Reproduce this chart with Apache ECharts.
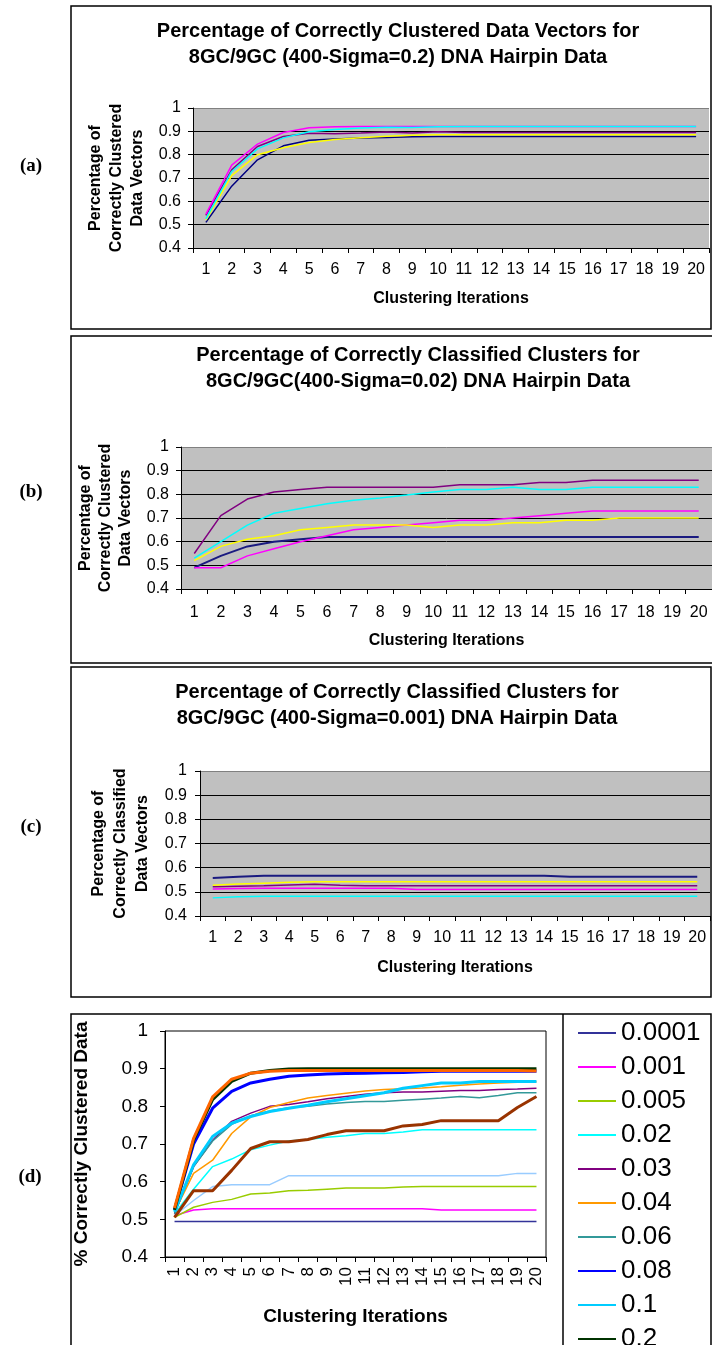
<!DOCTYPE html>
<html><head><meta charset="utf-8">
<script src="https://cdn.jsdelivr.net/npm/echarts@6/dist/echarts.min.js"></script>
<style>html,body{margin:0;padding:0;background:#fff}#chart{width:712px;height:1345px}</style>
</head><body><div id="chart"></div>
<script>
// ---------- data ----------
const iterations = ['1','2','3','4','5','6','7','8','9','10','11','12','13','14','15','16','17','18','19','20'];

const titleA = 'Percentage of Correctly Clustered Data Vectors for\n8GC/9GC (400-Sigma=0.2) DNA Hairpin Data';
const titleB = 'Percentage of Correctly Classified Clusters for\n8GC/9GC(400-Sigma=0.02) DNA Hairpin Data';
const titleC = 'Percentage of Correctly Classified Clusters for\n8GC/9GC (400-Sigma=0.001) DNA Hairpin Data';
const yNameAB = 'Percentage of\nCorrectly Clustered\nData Vectors';
const yNameC = 'Percentage of\nCorrectly Classified\nData Vectors';
const yNameD = '% Correctly Clustered Data';
const xName = 'Clustering Iterations';
const panelLabels = ['(a)', '(b)', '(c)', '(d)'];

// panel (a)
const aNavy    = [0.510,0.665,0.778,0.838,0.862,0.867,0.871,0.874,0.877,0.878,0.878,0.878,0.878,0.878,0.878,0.878,0.878,0.878,0.878,0.878];
const aMagenta = [0.545,0.755,0.845,0.895,0.915,0.920,0.921,0.921,0.921,0.921,0.921,0.921,0.921,0.921,0.921,0.921,0.921,0.921,0.921,0.921];
const aYellow  = [0.520,0.710,0.800,0.830,0.852,0.865,0.873,0.879,0.883,0.885,0.885,0.885,0.885,0.885,0.885,0.885,0.885,0.885,0.885,0.885];
const aPurple  = [0.540,0.735,0.835,0.878,0.892,0.890,0.893,0.897,0.893,0.898,0.895,0.895,0.895,0.895,0.895,0.895,0.895,0.895,0.895,0.895];
const aCyan    = [0.525,0.728,0.825,0.872,0.898,0.908,0.914,0.918,0.916,0.920,0.921,0.921,0.921,0.921,0.921,0.921,0.921,0.921,0.921,0.921];

// panel (b)
const bNavy    = [0.49,0.54,0.58,0.60,0.61,0.62,0.62,0.62,0.62,0.62,0.62,0.62,0.62,0.62,0.62,0.62,0.62,0.62,0.62,0.62];
const bMagenta = [0.49,0.49,0.54,0.57,0.60,0.625,0.65,0.66,0.67,0.68,0.69,0.69,0.70,0.71,0.72,0.73,0.73,0.73,0.73,0.73];
const bYellow  = [0.52,0.58,0.61,0.625,0.65,0.66,0.67,0.67,0.67,0.66,0.67,0.67,0.68,0.68,0.69,0.69,0.70,0.70,0.70,0.70];
const bCyan    = [0.53,0.60,0.67,0.72,0.74,0.76,0.775,0.785,0.797,0.81,0.82,0.82,0.83,0.82,0.82,0.83,0.83,0.83,0.83,0.83];
const bPurple  = [0.55,0.71,0.78,0.81,0.82,0.83,0.83,0.83,0.83,0.83,0.84,0.84,0.84,0.85,0.85,0.86,0.86,0.86,0.86,0.86];

// panel (c)
const cNavy    = [0.557,0.562,0.567,0.567,0.567,0.567,0.567,0.567,0.567,0.567,0.567,0.567,0.567,0.567,0.562,0.562,0.562,0.562,0.562,0.562];
const cYellow  = [0.527,0.532,0.536,0.540,0.542,0.542,0.542,0.542,0.542,0.542,0.542,0.542,0.542,0.542,0.542,0.542,0.542,0.542,0.542,0.542];
const cPurple  = [0.521,0.523,0.525,0.528,0.531,0.527,0.525,0.525,0.525,0.525,0.525,0.525,0.525,0.525,0.525,0.525,0.525,0.525,0.525,0.525];
const cMagenta = [0.512,0.514,0.515,0.515,0.515,0.515,0.515,0.515,0.510,0.510,0.510,0.510,0.510,0.510,0.510,0.510,0.510,0.510,0.510,0.510];
const cCyan    = [0.475,0.480,0.482,0.482,0.482,0.482,0.482,0.482,0.482,0.482,0.482,0.482,0.482,0.482,0.482,0.482,0.482,0.482,0.482,0.482];

// panel (d)
const dNames = ['0.0001','0.001','0.005','0.02','0.03','0.04','0.06','0.08','0.1','0.2','0.3','0.4','0.5'];
const d00001 = [0.494,0.494,0.494,0.494,0.494,0.494,0.494,0.494,0.494,0.494,0.494,0.494,0.494,0.494,0.494,0.494,0.494,0.494,0.494,0.494];
const d0001  = [0.510,0.525,0.528,0.528,0.528,0.528,0.528,0.528,0.528,0.528,0.528,0.528,0.528,0.528,0.525,0.525,0.525,0.525,0.525,0.525];
const d0005  = [0.505,0.532,0.545,0.553,0.567,0.570,0.576,0.577,0.580,0.583,0.583,0.583,0.586,0.587,0.587,0.587,0.587,0.587,0.587,0.587];
const d002   = [0.515,0.580,0.640,0.660,0.685,0.697,0.708,0.712,0.718,0.722,0.728,0.728,0.732,0.738,0.738,0.738,0.738,0.738,0.738,0.738];
const d003   = [0.515,0.640,0.710,0.760,0.782,0.800,0.805,0.812,0.820,0.826,0.832,0.836,0.838,0.838,0.840,0.842,0.842,0.845,0.846,0.848];
const d004   = [0.520,0.622,0.657,0.728,0.772,0.797,0.810,0.822,0.829,0.835,0.841,0.845,0.847,0.849,0.852,0.856,0.859,0.862,0.864,0.865];
const d006   = [0.515,0.640,0.708,0.752,0.775,0.788,0.796,0.800,0.806,0.810,0.813,0.813,0.816,0.819,0.822,0.826,0.823,0.829,0.836,0.836];
const d008   = [0.525,0.700,0.795,0.840,0.862,0.872,0.880,0.883,0.886,0.887,0.888,0.889,0.890,0.892,0.893,0.893,0.893,0.893,0.893,0.893];
const d01    = [0.520,0.645,0.720,0.755,0.773,0.786,0.795,0.803,0.812,0.820,0.828,0.836,0.848,0.855,0.862,0.862,0.866,0.866,0.866,0.866];
const d02    = [0.525,0.710,0.818,0.866,0.888,0.895,0.899,0.900,0.900,0.900,0.900,0.900,0.900,0.900,0.900,0.900,0.900,0.900,0.900,0.900];
const d03    = [0.510,0.550,0.587,0.592,0.592,0.592,0.616,0.616,0.616,0.616,0.616,0.616,0.616,0.616,0.616,0.616,0.616,0.616,0.622,0.622];
const d04    = [0.505,0.576,0.576,0.630,0.688,0.706,0.706,0.712,0.725,0.735,0.735,0.735,0.748,0.752,0.762,0.762,0.762,0.762,0.797,0.826];
const d05    = [0.530,0.715,0.825,0.872,0.888,0.893,0.895,0.895,0.895,0.895,0.895,0.895,0.895,0.895,0.895,0.895,0.895,0.895,0.895,0.894];

// ---------- build ----------
const FONT = "'Liberation Sans', Arial, sans-serif";
const gridLineColors = ['#000','#000','#000','#000','#000','#000','#808080'];

function xAx(i, fs, margin, gap, rotate, nameFs) {
  return {
    gridIndex: i, type: 'category', data: iterations, boundaryGap: true,
    axisLine: { lineStyle: { color: '#000', width: 1 } },
    axisTick: { show: true, length: 5, alignWithLabel: false, lineStyle: { color: '#000' } },
    axisLabel: { interval: 0, color: '#000', fontSize: fs, fontFamily: FONT, margin: margin, rotate: rotate },
    splitLine: { show: false },
    name: xName, nameLocation: 'middle', nameGap: gap,
    nameTextStyle: { fontWeight: 'bold', fontSize: nameFs, color: '#000', fontFamily: FONT }
  };
}
function yAx(i, name, fs, margin, gap, nameFs, lh, split) {
  return {
    gridIndex: i, type: 'value', min: 0.4, max: 1, interval: 0.1,
    axisLine: { show: true, lineStyle: { color: '#000', width: 1 } },
    axisTick: { show: true, length: 5, lineStyle: { color: '#000' } },
    axisLabel: { color: '#000', fontSize: fs, fontFamily: FONT, margin: margin },
    splitLine: { show: split, lineStyle: { color: gridLineColors, width: 1 } },
    name: name, nameLocation: 'middle', nameRotate: 90, nameGap: gap,
    nameTextStyle: { fontWeight: 'bold', fontSize: nameFs, lineHeight: lh, color: '#000', fontFamily: FONT, align: 'center' }
  };
}
function ln(i, name, data, color, width) {
  return { type: 'line', name: name, xAxisIndex: i, yAxisIndex: i, data: data,
    symbol: 'none', lineStyle: { color: color, width: width }, itemStyle: { color: color } };
}
function ttl(text, cx, top) {
  return { text: text, left: cx, top: top, textAlign: 'center', padding: 0,
    textStyle: { fontSize: 20, fontWeight: 'bold', lineHeight: 26, color: '#000', fontFamily: FONT } };
}

const series = [
  ln(0, 'a navy', aNavy, '#000080', 1.5),
  ln(0, 'a yellow', aYellow, '#ffff00', 1.5),
  ln(0, 'a purple', aPurple, '#800080', 1.5),
  ln(0, 'a magenta', aMagenta, '#ff00ff', 1.5),
  ln(0, 'a cyan', aCyan, '#00ffff', 1.5),

  ln(1, 'b navy', bNavy, '#1a1a80', 2),
  ln(1, 'b magenta', bMagenta, '#ff00ff', 1.5),
  ln(1, 'b yellow', bYellow, '#ffff00', 1.5),
  ln(1, 'b cyan', bCyan, '#00ffff', 1.5),
  ln(1, 'b purple', bPurple, '#800080', 1.5),

  ln(2, 'c navy', cNavy, '#1a1a80', 2),
  ln(2, 'c purple', cPurple, '#800080', 1.5),
  ln(2, 'c magenta', cMagenta, '#ff00ff', 1.5),
  ln(2, 'c yellow', cYellow, '#ffff00', 1.5),
  ln(2, 'c cyan', cCyan, '#00ffff', 1.5),

  ln(3, dNames[0], d00001, '#333399', 1.5),
  ln(3, dNames[1], d0001, '#ff00ff', 1.5),
  ln(3, dNames[2], d0005, '#99cc00', 1.5),
  ln(3, dNames[3], d002, '#00ffff', 1.5),
  ln(3, dNames[4], d003, '#800080', 1.5),
  ln(3, dNames[5], d004, '#ff9900', 1.5),
  ln(3, dNames[6], d006, '#339999', 1.5),
  ln(3, dNames[7], d008, '#0000ff', 3),
  ln(3, dNames[8], d01, '#00ccff', 3),
  ln(3, dNames[9], d02, '#003300', 3),
  ln(3, dNames[10], d03, '#99ccff', 1.5),
  ln(3, dNames[11], d04, '#993300', 3),
  ln(3, dNames[12], d05, '#ff6600', 3)
];

const borders = [
  { x: 71, y: 6, w: 640, h: 323 },
  { x: 71, y: 336, w: 660, h: 327 },
  { x: 71, y: 667, w: 640, h: 330 },
  { x: 71, y: 1014, w: 640, h: 400 }
];
const labelPos = [[31, 166], [31, 492], [31, 827], [30, 1177]];

const graphic = [];
borders.forEach(b => graphic.push({ type: 'rect', silent: true, z: 100,
  shape: { x: b.x, y: b.y, width: b.w, height: b.h },
  style: { fill: 'none', stroke: '#000', lineWidth: 1.5 } }));
graphic.push({ type: 'line', silent: true, z: 100, shape: { x1: 563, y1: 1014, x2: 563, y2: 1400 },
  style: { stroke: '#000', lineWidth: 1.5 } });
panelLabels.forEach((t, i) => graphic.push({ type: 'text', x: labelPos[i][0], y: labelPos[i][1], z: 100,
  style: { text: t, fontSize: 19, fontWeight: 'bold', fontFamily: "'Liberation Serif', 'Times New Roman', serif",
    align: 'center', verticalAlign: 'middle', fill: '#000' } }));

const option = {
  animation: false,
  backgroundColor: '#fff',
  title: [ttl(titleA, 398, 18), ttl(titleB, 418, 342), ttl(titleC, 397, 679)],
  grid: [
    { left: 193, top: 108, width: 516, height: 140, show: true, backgroundColor: '#c0c0c0', borderWidth: 0 },
    { left: 181, top: 447, width: 534, height: 142, show: true, backgroundColor: '#c0c0c0', borderWidth: 0 },
    { left: 200, top: 771, width: 510, height: 145, show: true, backgroundColor: '#c0c0c0', borderWidth: 0 },
    { left: 165, top: 1031, width: 381, height: 226, show: true, backgroundColor: '#fff', borderColor: '#000', borderWidth: 1 }
  ],
  xAxis: [
    xAx(0, 16, 14, 43, 0, 16),
    xAx(1, 16, 16, 44, 0, 16),
    xAx(2, 16, 14, 44, 0, 16),
    xAx(3, 17, 10, 50, 90, 19)
  ],
  yAxis: [
    yAx(0, yNameAB, 16, 12, 41, 16, 21, true),
    yAx(1, yNameAB, 16, 12, 42, 16, 20, true),
    yAx(2, yNameC, 16, 13, 45, 16, 22, true),
    yAx(3, yNameD, 19, 17, 72, 19, 22, false)
  ],
  legend: {
    data: dNames, orient: 'vertical', left: 577, top: 1018, height: 1000, padding: 0,
    itemWidth: 38, itemHeight: 2, itemGap: 4, selectedMode: false,
    itemStyle: { opacity: 0 },
    textStyle: { fontSize: 26, lineHeight: 30, color: '#000', fontFamily: FONT }
  },
  graphic: graphic,
  series: series
};

const chart = echarts.init(document.getElementById('chart'), null, { renderer: 'canvas' });
chart.setOption(option);
</script></body></html>
